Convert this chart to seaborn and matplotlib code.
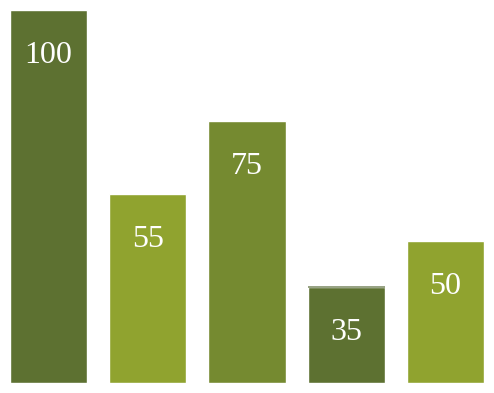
import matplotlib
matplotlib.use("Agg")
import matplotlib.pyplot as plt
import seaborn as sns
import pandas as pd

categories = ["A", "B", "C", "D", "E"]
labels = ["100", "55", "75", "35", "50"]
heights = [100, 50.7, 70.2, 25.7, 38.1]
colors = ["#5D7131", "#90A32F", "#758A30", "#5D7131", "#90A32F"]

df = pd.DataFrame({"cat": categories, "h": heights})

sns.set_theme(style="white")
fig = plt.figure(figsize=(4.94, 3.93), dpi=100)
ax = fig.add_axes([0, (393 - 383) / 393, 1, 373.5 / 393])
sns.barplot(data=df, x="cat", y="h", hue="cat", palette=colors, legend=False,
            width=0.776, saturation=1, ax=ax)
ax.set_xlim(-0.489, 4.489)
ax.set_ylim(0, 100)
ax.axis("off")

for i, (h, lab) in enumerate(zip(heights, labels)):
    ax.annotate(lab, xy=(i, h), xytext=(0, -33), textcoords="offset points",
                ha="center", va="center", color="white", fontsize=23,
                family="Liberation Serif")

# thin lighter strip on top of the 35 bar
ax.plot([3 - 0.388, 3 + 0.388], [heights[3], heights[3]], color="#8E9A78",
        lw=1.3, solid_capstyle="butt")

fig.savefig("out.png", dpi=100)
